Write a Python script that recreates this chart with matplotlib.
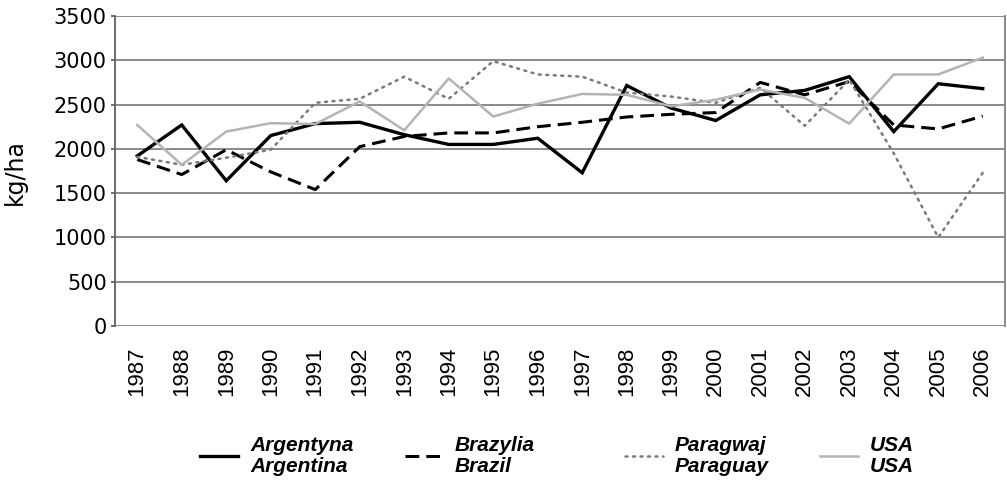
import matplotlib
matplotlib.use("Agg")
import matplotlib.pyplot as plt
from matplotlib.font_manager import FontProperties

years = [str(y) for y in range(1987, 2007)]
argentina = [1920, 2270, 1640, 2150, 2285, 2300, 2160, 2050, 2050, 2120, 1730,
             2715, 2460, 2320, 2610, 2660, 2815, 2195, 2735, 2680]
brazil = [1880, 1710, 1990, 1740, 1540, 2025, 2140, 2180, 2180, 2250, 2300,
          2360, 2390, 2410, 2750, 2610, 2760, 2270, 2225, 2370]
paraguay = [1910, 1820, 1900, 1990, 2520, 2565, 2815, 2565, 2990, 2840, 2815,
            2635, 2590, 2520, 2690, 2260, 2780, 1950, 1000, 1730]
usa = [2270, 1820, 2195, 2290, 2280, 2535, 2210, 2795, 2365, 2510, 2620,
       2610, 2480, 2555, 2670, 2575, 2285, 2840, 2840, 3030]
labels = ["Argentyna\nArgentina", "Brazylia\nBrazil", "Paragwaj\nParaguay", "USA\nUSA"]
yticks = [0, 500, 1000, 1500, 2000, 2500, 3000, 3500]

W, H = 1007, 486
fig = plt.figure(figsize=(W / 100, H / 100), dpi=100)
ax = fig.add_axes([115 / W, 1 - 326 / H, (1005 - 115) / W, (326 - 16) / H])

x = list(range(len(years)))
l1, = ax.plot(x, argentina, color="black", lw=2.4, solid_joinstyle="miter")
l2, = ax.plot(x, brazil, color="black", lw=2.2, dashes=(4.5, 2.3))
l3, = ax.plot(x, paraguay, color="#7a7a7a", lw=1.8, dashes=(0.8, 2.2),
              dash_capstyle="round")
l4, = ax.plot(x, usa, color="#b4b4b4", lw=1.8)

ax.set_xlim(-0.5, len(years) - 0.5)
ax.set_ylim(0, 3500)
ax.set_yticks(yticks)
ax.set_yticklabels([str(v) for v in yticks], fontsize=15, family="DejaVu Sans")
ax.set_xticks(x)
ax.set_xticklabels(years, rotation=90, fontsize=16, family="Liberation Sans")
ax.tick_params(axis="x", length=0, pad=15)
ax.tick_params(axis="y", length=3, width=1.2, color="#555555", pad=3)
ax.grid(axis="y", color="#8a8a8a", lw=1.4)
ax.set_axisbelow(True)
ax.spines["top"].set_visible(False)
ax.spines["bottom"].set_visible(False)
ax.spines["left"].set_color("#6a6a6a")
ax.spines["left"].set_linewidth(1.4)
ax.spines["right"].set_color("#8a8a8a")
ax.spines["right"].set_linewidth(1.4)
ax.set_ylabel("kg/ha", fontsize=17, family="DejaVu Sans")
ax.yaxis.set_label_coords((27 - 115) / 890, 0.497)

fp = FontProperties(family="Liberation Sans", weight="bold", style="italic", size=15)
starts = [200, 405, 625, 820]
for h, lab, sx in zip([l1, l2, l3, l4], labels, starts):
    leg = fig.legend([h], [lab], loc="center left",
                     bbox_to_anchor=(sx / W, 1 - 456 / H), frameon=False,
                     prop=fp, handlelength=1.8, handletextpad=0.6, borderpad=0,
                     borderaxespad=0)
    for t in leg.get_texts():
        t.set_linespacing(1.15)

fig.savefig("out.png", dpi=100)
